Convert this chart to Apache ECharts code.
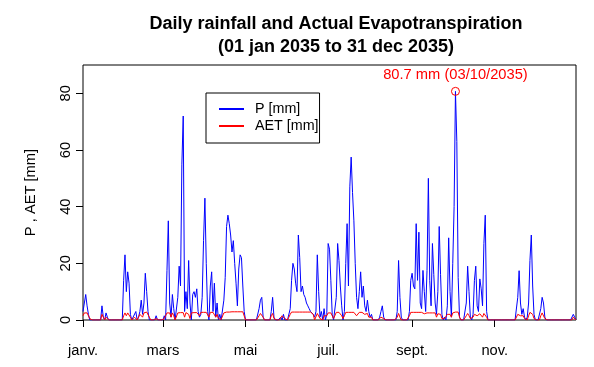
<!DOCTYPE html>
<html>
<head>
<meta charset="utf-8">
<script src="https://cdn.jsdelivr.net/npm/echarts@6/dist/echarts.min.js"></script>
<style>
  html, body { margin: 0; padding: 0; background: #fff; }
  #chart { width: 594px; height: 367px; }
</style>
</head>
<body>
<div id="chart"></div>
<script>
// pluie journaliere P [mm], un tableau par mois
const pJan = [3,6,9,5,2, 0,0,0,0,0, 0,0,0,0,5, 1,0,2.5,1,0, 0,0,0,0,0, 0,0,0,0,0, 14];
const pFeb = [23,10,17,13,2, 0,1,1,3,0, 1,3,7,2,6, 16.5,10,3,0,0, 0,0,0,1.5,0, 0,0,0];
const pMar = [0,1.5,0,17.5,35, 6,1,9,4,0, 0,8,19,12,55, 72,3,10,4,21, 6,0,9,10,8, 11,3,1,2,8, 28];
const pApr = [43,20,3,0,12, 17,3,13,1,6, 0,2,0,0,7, 15,33,37,34,30, 24,28,20,13,5, 18,23,22,12,3];
const pMay = [0,0,0,0,0, 0,0,0,0,0, 4,7,8,1,0, 0,0,0,0,3, 8,1,0,0,0, 0,1,0,2,0, 0];
const pJun = [0,0,4,14,20, 18,13,10,30,22, 10,12,9,8,6, 5,4,3,3,2, 1,3,23,10,1, 3,0,4,0,2];
const pJul = [27,25,14,2,0, 0,8,27,21,12, 5,0,3,20,34, 12,47,57.5,45,35, 20,8,4,10,17, 8,12,5,3,7, 3];
const pAug = [1,2,0,0,0, 0,0,1,3,5, 1,0,0,0,0, 0,0,0,0,0, 3,21,8,1,0, 0,0,0,0,3, 14];
const pSep = [16.5,12,11,34,14, 31,6,4,17.5,10, 3,17.5,50,14,5, 27,16,6,2,10, 33,16,2,0,1, 0,5,29,10,1];
const pOct = [20,40,80.7,63,15, 1,0,0,0,0, 6,19,10,1,0, 2,14,19,5,3, 14.5,11,5,27,37, 3,0,0,0,0, 0];
const pNov = [0,0,0,0,0, 0,0,0,0,0, 0,0,0,0,0, 0,0,8,17.4,6, 2,4,1,0,1, 6,21,30,12,2];
const pDec = [0,0,0,0,4, 8,6,1,0,0, 0,0,0,0,0, 0,0,0,0,0, 0,0,0,0,0, 0,0,0,2,1, 0];

// evapotranspiration reelle AET [mm]
const aetJan = [1.5,2.5,2.5,2.5,2, 0.5,0,0,0,0, 0,0,0,0,2, 1.5,0,1,0.5,0, 0,0,0,0,0, 0,0,0,0,0, 1.5];
const aetFeb = [2.5,1.5,2.5,2.5,1, 0,0.5,1,1.5,0, 0.5,2,2.5,1,2.5, 2.8,2.8,2.5,1,0, 0,0,0,0.5,0, 0,0,0];
const aetMar = [0,0.5,0,2.5,2.5, 2.5,1,2.5,1.5,0, 0.5,2.5,2.6,2.6,2.6, 2.6,1,2.6,2.6,2, 0.5,2.5,2.6,2.6,2.6, 2.6,2.6,1.5,2.7,2.7, 2.7];
const aetApr = [2.7,2.7,2.7,1,2.7, 2.7,2.7,2.7,1,2, 0.5,1,0.2,0,2.5, 2.8,2.8,2.8,2.8,2.9, 2.9,2.9,2.9,2.9,2.9, 2.9,2.9,2.9,2.9,2.5];
const aetMay = [0,0,0,0,0, 0,0,0,0,0, 1.5,2.3,2.3,1,0, 0,0,0,0,1.5, 2.3,0.5,0,0,0, 0,0.5,1.5,2,0.5, 0];
const aetJun = [0,1,2,2.8,2.8, 2.8,2.8,2.8,2.8,2.8, 2.8,2.8,2.8,2.8,2.8, 2.8,2.8,2.8,2.8,2, 0,0.5,2.3,2,0.5, 1,0,1.5,1,1.5];
const aetJul = [2.5,2.5,2.5,1.5,0.5, 1,2.7,2.7,2.7,2.7, 1.5,0.5,1.5,2.7,2.7, 2.7,2.7,2.7,2.7,2.7, 2.7,1.5,2,2.7,2.7, 2.7,2.7,2,1.5,2.3, 1];
const aetAug = [0.5,1,0,0,0, 0,0,0,1,1.5, 0.5,0,0,0,0, 0,0,0,0,0, 1,2.3,1,0,0, 0,0,0,0,1.5, 2.7];
const aetSep = [2.7,2.7,2.7,2.7,2.7, 2.7,2.7,2.7,2.2,2.2, 1.5,2.5,2.5,2.5,2.5, 2.5,2.5,2.5,1,2.2, 2.5,2,0.5,0,0.5, 0,2,2.5,2,1];
const aetOct = [2.5,2.8,2.8,2.8,2.8, 1,0,0,0,0, 1.5,2.3,1.5,0.5,0, 1,2,2.3,1.5,1, 2.2,2,1,2.3,2.3, 1,0,0,0,0, 0];
const aetNov = [0,0,0,0,0, 0,0,0,0,0, 0,0,0,0,0, 0,0.5,2,2,1.5, 1,1.5,0.5,0,0, 1.5,2.7,2.7,2,0.5];
const aetDec = [0,0,0,0,1.5, 2.5,2,0.5,0,0, 0,0,0,0,0, 0,0,0,0,0, 0,0,0,0,0, 0,0,0,1,0.5, 0];

// etiquettes de l'axe des x (un mois sur deux)
const monthLabels = ['janv.', 'févr.', 'mars', 'avr.', 'mai', 'juin', 'juil.', 'août', 'sept.', 'oct.', 'nov.', 'déc.'];
const monthLengths = [31, 28, 31, 30, 31, 30, 31, 31, 30, 31, 30, 31];
const yTicks = [0, 20, 40, 60, 80];

const pData = [].concat(pJan, pFeb, pMar, pApr, pMay, pJun, pJul, pAug, pSep, pOct, pNov, pDec);
const aetData = [].concat(aetJan, aetFeb, aetMar, aetApr, aetMay, aetJun, aetJul, aetAug, aetSep, aetOct, aetNov, aetDec);

// dates jour par jour
const days = [];
const labelAt = {};
let idx = 0;
monthLengths.forEach((len, m) => {
    if (m % 2 === 0) labelAt[idx] = monthLabels[m];
    for (let d = 1; d <= len; d++) {
        days.push(String(d).padStart(2, '0') + '/' + String(m + 1).padStart(2, '0') + '/2035');
        idx++;
    }
});

const pMax = Math.max(...pData);
const pMaxDate = days[pData.indexOf(pMax)];

const font = 'Liberation Sans, Arial, sans-serif';
const fs = 14.7;
const chart = echarts.init(document.getElementById('chart'));
chart.setOption({
    animation: false,
    backgroundColor: '#fff',
    title: {
        text: 'Daily rainfall and Actual Evapotranspiration\n(01 jan 2035 to 31 dec 2035)',
        left: 331,
        top: 8,
        textAlign: 'center',
        textStyle: {
            fontFamily: font,
            fontSize: 18,
            fontWeight: 'bold',
            lineHeight: 23,
            color: '#000'
        }
    },
    legend: {
        left: 206,
        top: 93,
        orient: 'vertical',
        padding: [9, 1, 10, 12],
        itemGap: 3,
        itemWidth: 25,
        itemHeight: 14,
        borderColor: '#000',
        borderWidth: 1,
        borderRadius: 0,
        itemStyle: { opacity: 0 },
        textStyle: { fontFamily: font, fontSize: 14.3, color: '#000', padding: [0, 0, 0, 6] },
        data: ['P [mm]', 'AET [mm]']
    },
    grid: {
        left: 83,
        right: 18,
        top: 65,
        bottom: 47,
        show: true,
        borderColor: '#000',
        borderWidth: 1
    },
    xAxis: {
        type: 'category',
        data: days,
        boundaryGap: false,
        axisLine: { show: false },
        axisTick: {
            interval: (i) => labelAt[i] !== undefined,
            length: 7,
            lineStyle: { color: '#000' }
        },
        axisLabel: {
            interval: (i) => labelAt[i] !== undefined,
            formatter: (v, i) => labelAt[i] || '',
            margin: 23,
            fontFamily: font,
            fontSize: fs,
            color: '#000'
        },
        splitLine: { show: false }
    },
    yAxis: {
        type: 'value',
        min: 0,
        max: 90,
        interval: 20,
        name: 'P , AET [mm]',
        nameLocation: 'middle',
        nameRotate: 90,
        nameGap: 45,
        nameTextStyle: { fontFamily: font, fontSize: fs, color: '#000' },
        axisLine: { show: false },
        axisTick: {
            show: true,
            length: 7,
            customValues: yTicks,
            lineStyle: { color: '#000' }
        },
        axisLabel: {
            rotate: 90,
            margin: 10,
            customValues: yTicks,
            fontFamily: font,
            fontSize: fs,
            color: '#000'
        },
        splitLine: { show: false }
    },
    series: [
        {
            name: 'P [mm]',
            type: 'line',
            data: pData,
            symbol: 'none',
            color: '#0000ff',
            lineStyle: { color: '#0000ff', width: 1 },
            markPoint: {
                symbol: 'circle',
                symbolSize: 8,
                itemStyle: { color: 'rgba(0,0,0,0)', borderColor: '#ff0000', borderWidth: 1 },
                label: {
                    show: true,
                    position: 'top',
                    distance: 4,
                    formatter: pMax + ' mm (' + pMaxDate + ')',
                    fontFamily: font,
                    fontSize: fs,
                    color: '#ff0000'
                },
                data: [{ type: 'max' }]
            }
        },
        {
            name: 'AET [mm]',
            type: 'line',
            data: aetData,
            symbol: 'none',
            color: '#ff0000',
            lineStyle: { color: '#ff0000', width: 1 }
        }
    ]
});
</script>
</body>
</html>
